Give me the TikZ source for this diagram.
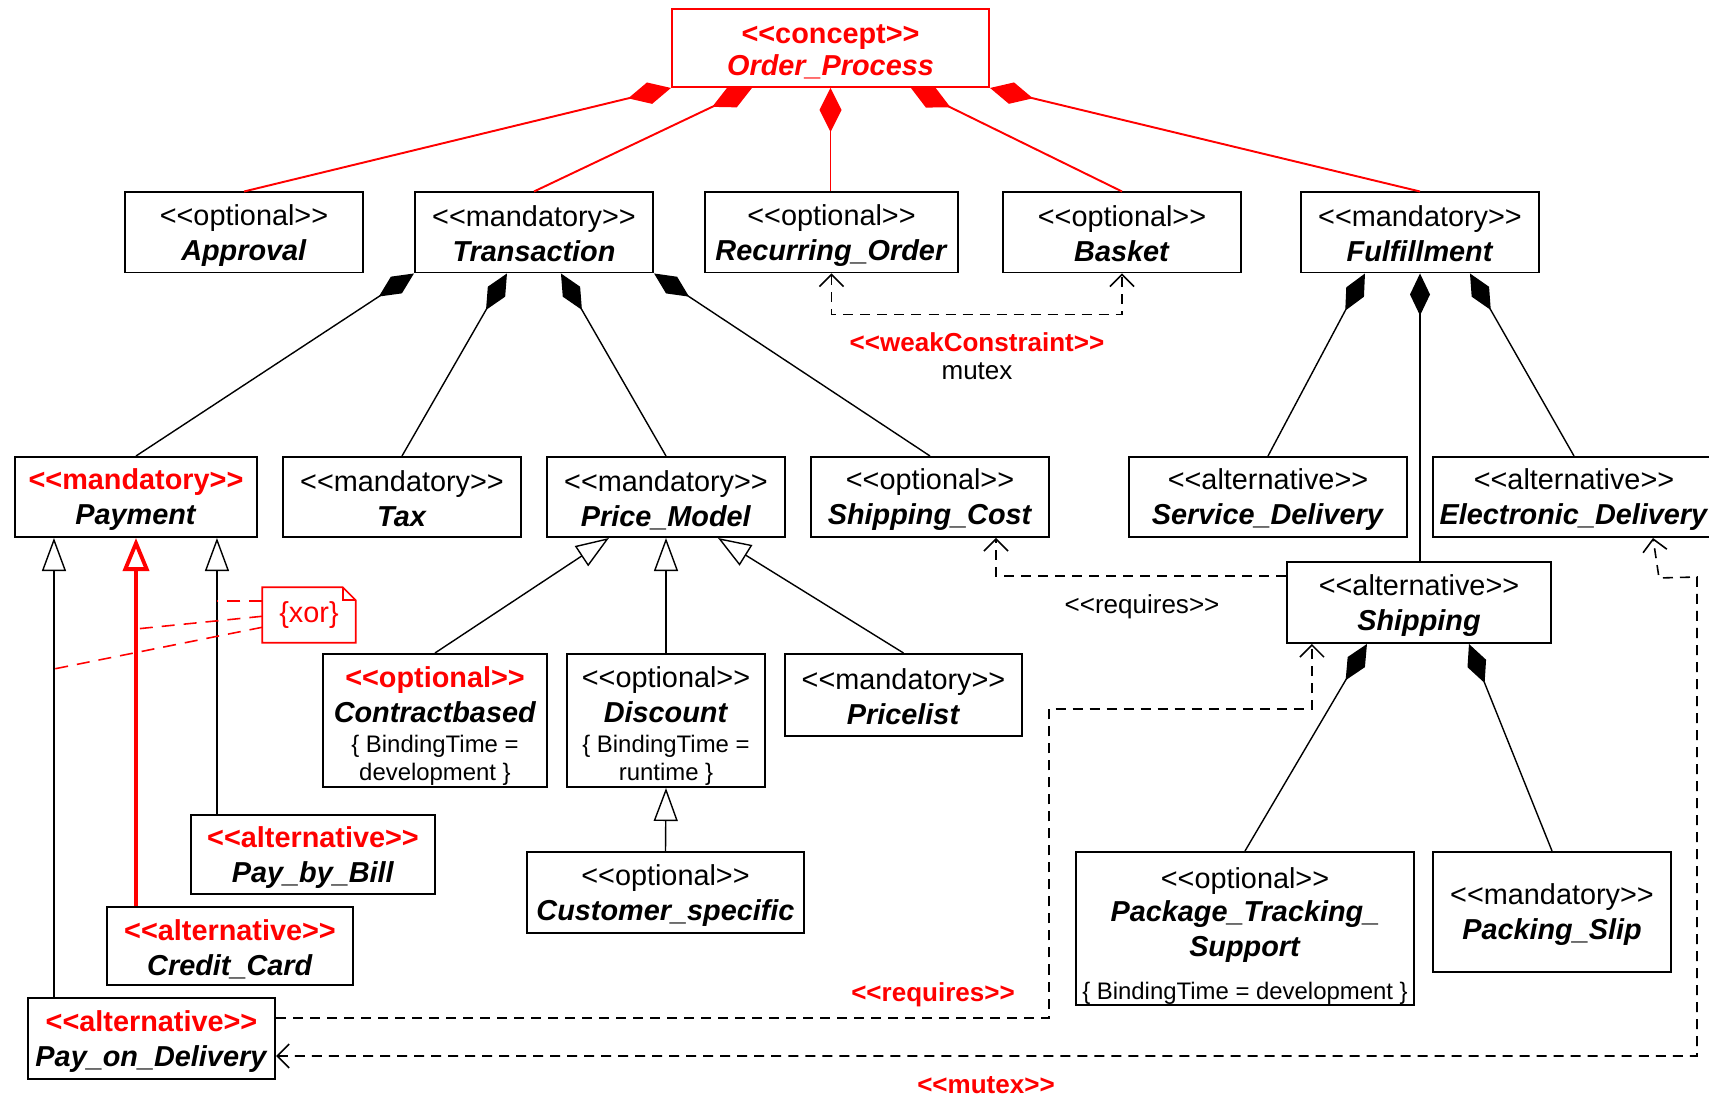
\documentclass[tikz,border=0pt]{standalone}
\usepackage{fontspec}
\setmainfont{Liberation Sans}
\usepackage{tikz}
\usetikzlibrary{arrows.meta, calc}
\definecolor{fmred}{RGB}{255,0,0}
\newcommand{\fs}{\rule[-1pt]{0pt}{8.6pt}}
\newcommand{\ster}[1]{\fs<\kern0pt<#1>\kern0pt>}
\newcommand{\rster}[1]{\textbf{\color{fmred}\ster{#1}}}
\newcommand{\fname}[1]{\fs\textbf{\textit{#1}}}
\newcommand{\bind}[1]{{\fontsize{6.8}{8}\selectfont #1}}

\begin{document}
\begin{tikzpicture}[x=0.01cm, y=-0.01cm,
 feat/.style={draw, line width=0.55pt, fill=white, align=center, inner sep=0pt, minimum height=0.8cm, font=\fontsize{8.2}{10}\selectfont},
 lbl/.style={inner sep=0pt, font=\fontsize{7.4}{9}\selectfont},
 comp/.style={line width=0.4pt, {Diamond[length=4.2mm, width=2mm]}-},
 rcomp/.style={color=fmred, line width=0.55pt, {Diamond[length=4.4mm, width=2.2mm]}-},
 gen/.style={line width=0.4pt, -{Triangle[fill=white, length=3.3mm, width=2.4mm]}},
 rgen/.style={color=fmred, line width=1.1pt, -{Triangle[fill=white, length=3.3mm, width=2.6mm]}},
 dep/.style={line width=0.45pt, dash pattern=on 1mm off 0.7mm},
 depto/.style={dep, -{Straight Barb[length=1.2mm, width=2.4mm]}},
 depboth/.style={dep, {Straight Barb[length=1.2mm, width=2.4mm]}-{Straight Barb[length=1.2mm, width=2.4mm]}},
 xorline/.style={fmred, line width=0.45pt, dash pattern=on 1.3mm off 0.9mm}]
 \useasboundingbox (0,0) rectangle (1709,1095);

 \node[feat, draw=fmred, minimum width=3.17cm, minimum height=0.78cm] (order) at (830.5,48) {\rster{concept}\\[-0.7pt] \fs\textbf{\textit{\color{fmred}Order\_Process}}};

 \node[feat, minimum width=2.38cm] (approval) at (244,232.5) {\ster{optional}\\ \fname{Approval}};
 \node[feat, minimum width=2.38cm] (trans) at (534,232.5) {\ster{mandatory}\\ \fname{Transaction}};
 \node[feat, minimum width=2.53cm] (recur) at (831.5,232.5) {\ster{optional}\\ \fname{Recurring\_Order}};
 \node[feat, minimum width=2.38cm] (basket) at (1122,232.5) {\ster{optional}\\ \fname{Basket}};
 \node[feat, minimum width=2.38cm] (fulfil) at (1420,232.5) {\ster{mandatory}\\ \fname{Fulfillment}};

 \node[feat, minimum width=2.42cm] (payment) at (136,497) {\rster{mandatory}\\ \fname{Payment}};
 \node[feat, minimum width=2.38cm] (tax) at (402,497) {\ster{mandatory}\\ \fname{Tax}};
 \node[feat, minimum width=2.38cm] (price) at (666,497) {\ster{mandatory}\\ \fname{Price\_Model}};
 \node[feat, minimum width=2.38cm] (shipcost) at (930,497) {\ster{optional}\\ \fname{Shipping\_Cost}};
 \node[feat, minimum width=2.78cm] (service) at (1268,497) {\ster{alternative}\\ \fname{Service\_Delivery}};
 \node[feat, minimum width=2.82cm] (electronic) at (1574,497) {\ster{alternative}\\ \fname{Electronic\_Delivery}};
 \node[feat, minimum width=2.64cm, minimum height=0.81cm] (shipping) at (1419,602.5) {\ster{alternative}\\ \fname{Shipping}};

 \node[feat, minimum width=2.24cm, minimum height=1.33cm] (contract) at (435,720.5) {\rule{0pt}{9.1pt}\rster{optional}\\ \fname{Contractbased}\\[-1.5pt] \bind{\{ BindingTime =}\\[-1.8pt] \bind{development \}}};
 \node[feat, minimum width=1.98cm, minimum height=1.33cm] (discount) at (666,720.5) {\rule{0pt}{9.1pt}\ster{optional}\\ \fname{Discount}\\[-1.5pt] \bind{\{ BindingTime =}\\[-1.8pt] \bind{runtime \}}};
 \node[feat, minimum width=2.37cm, minimum height=0.82cm] (pricelist) at (903.5,695) {\ster{mandatory}\\ \fname{Pricelist}};
 \node[feat, minimum width=2.77cm, minimum height=0.81cm] (customer) at (665.5,892.5) {\ster{optional}\\ \fname{Customer\_specific}};
 \node[feat, minimum width=3.38cm, minimum height=1.53cm] (package) at (1245,928.5) {\rule{0pt}{10pt}\ster{optional}\\[-0.6pt] \fname{Package\_Tracking\_}\\ \fname{Support}\\[2.2pt] \bind{\{ BindingTime = development \}}};
 \node[feat, minimum width=2.38cm, minimum height=1.2cm] (packing) at (1552,912) {\ster{mandatory}\\ \fname{Packing\_Slip}};

 \node[feat, minimum width=2.44cm, minimum height=0.79cm] (paybill) at (313,854.5) {\rster{alternative}\\ \fname{Pay\_by\_Bill}};
 \node[feat, minimum width=2.46cm, minimum height=0.78cm] (credit) at (230,946) {\rster{alternative}\\ \fname{Credit\_Card}};
 \node[feat, minimum width=2.47cm, minimum height=0.81cm] (payod) at (151.5,1038.5) {\rster{alternative}\\ \fname{Pay\_on\_Delivery}};

 \node[inner sep=0pt, text=fmred, minimum width=0.92cm, minimum height=0.54cm, font=\fontsize{8.2}{10}\selectfont] (xor) at (309,615) {\{xor\}};
 \draw[fmred, line width=0.45pt] (xor.south west) -- (xor.north west) -- ([xshift=-1.3mm]xor.north east) -- ([yshift=-1.3mm]xor.north east) -- (xor.south east) -- cycle;
 \draw[fmred, line width=0.45pt] ([xshift=-1.3mm]xor.north east) |- ([yshift=-1.3mm]xor.north east);

 \node[lbl, text=fmred, font=\fontsize{7.4}{9}\selectfont\bfseries] (wclbl) at (977,340) {\ster{weakConstraint}};
 \node[lbl] (wcmutex) at (977,371) {mutex};
 \node[lbl] (reqlbl) at (1142,603) {\ster{requires}};
 \node[lbl, text=fmred, font=\fontsize{7.4}{9}\selectfont\bfseries] (rreqlbl) at (933,991) {\ster{requires}};
 \node[lbl, text=fmred, font=\fontsize{7.4}{9}\selectfont\bfseries] (mutexlbl) at (986,1082) {\ster{mutex}};

 \draw[rcomp] (order.south west) -- (approval.north);
 \draw[rcomp] ($(order.south west)+(81,0)$) -- (trans.north);
 \draw[rcomp] (order.south) -- (order.south |- recur.north);
 \draw[rcomp] ($(order.south west)+(240,0)$) -- (basket.north);
 \draw[rcomp] (order.south east) -- (fulfil.north);

 \draw[comp] (trans.south west) -- (payment.north);
 \draw[comp] ($(trans.south west)+(93,0)$) -- (tax.north);
 \draw[comp] ($(trans.south west)+(147,0)$) -- (price.north);
 \draw[comp] (trans.south east) -- (shipcost.north);

 \draw[comp] ($(fulfil.south west)+(65,0)$) -- (service.north);
 \draw[comp] (fulfil.south) -- (fulfil.south |- shipping.north);
 \draw[comp] ($(fulfil.south west)+(170,0)$) -- (electronic.north);

 \draw[comp] ($(shipping.south west)+(81,0)$) -- (package.north);
 \draw[comp] ($(shipping.south west)+(183,0)$) -- (packing.north);

 \coordinate (g1) at ($(payment.south west)+(40,0)$);
 \coordinate (g3) at ($(payment.south west)+(203,0)$);
 \draw[gen] (g1 |- payod.north) -- (g1);
 \draw[rgen] (payment.south |- credit.north) -- (payment.south);
 \draw[gen] (g3 |- paybill.north) -- (g3);

 \draw[gen] (contract.north) -- ($(price.south west)+(63,0)$);
 \draw[gen] (discount.north) -- (price.south);
 \draw[gen] (pricelist.north) -- ($(price.south west)+(172,0)$);
 \draw[gen] (customer.north) -- (discount.south);

 \coordinate (x1) at ($(xor.north west)+(0,14)$);
 \coordinate (x2) at ($(xor.north west)+(0,29)$);
 \coordinate (x3) at ($(xor.north west)+(0,40)$);
 \draw[xorline] (x1) -- (x1 -| g3);
 \draw[xorline] (x2) -- ($(payment.south)+(0,91)$);
 \draw[xorline] (x3) -- ($(g1)+(0,131)$);

 \draw[depboth] (recur.south) -- ++(0,41) -| (basket.south);
 \draw[depto] ($(shipping.north west)+(0,15)$) -| ($(shipcost.south)+(66,0)$);
 \coordinate (rq) at (1049,709);
 \draw[depto] ($(payod.north east)+(0,21)$) -| (rq) -| ($(shipping.south west)+(26,0)$);
 \coordinate (mx) at (1697,577);
 \draw[depboth] ($(payod.north east)+(0,59)$) -| (mx) -- ($(electronic.south)+(85,40)$) -- ($(electronic.south)+(79,0)$);
\end{tikzpicture}
\end{document}
